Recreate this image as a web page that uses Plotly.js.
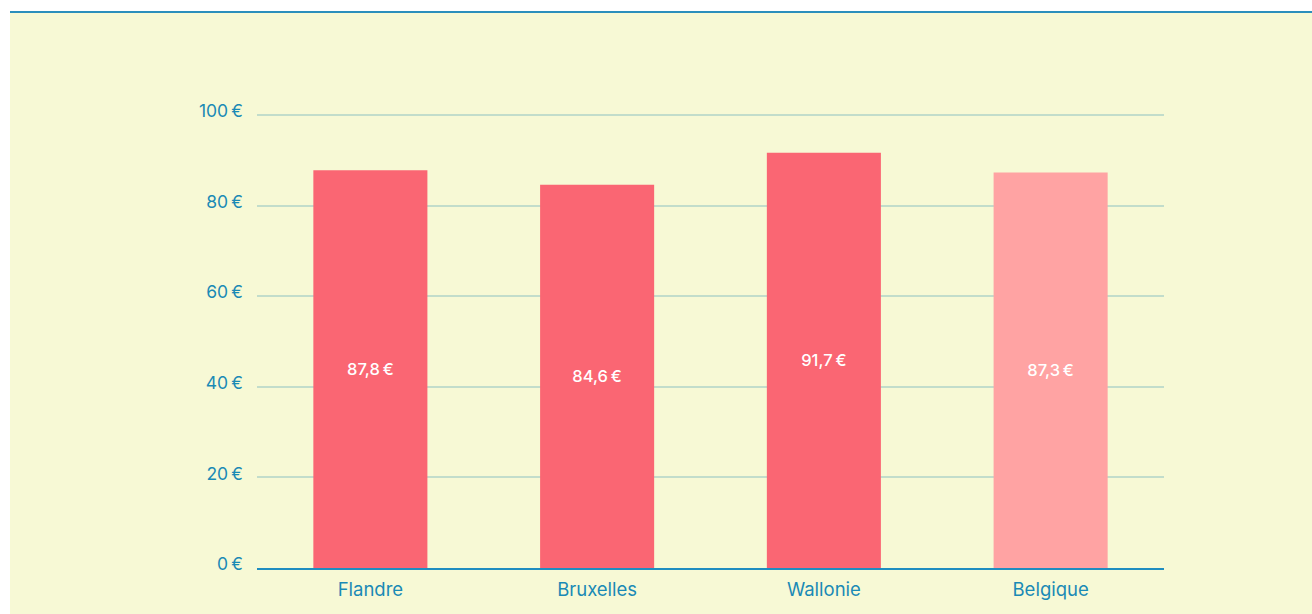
<!DOCTYPE html>
<html>
<head>
<meta charset="utf-8">
<script src="https://cdn.plot.ly/plotly-3.0.1.min.js"></script>
<style>
  html, body { margin: 0; padding: 0; background: #ffffff; }
  #wrap { position: relative; width: 1312px; height: 614px; overflow: hidden; }
  #panel { position: absolute; left: 10px; top: 11px; right: 0; bottom: 0;
           background: #F7F9D5; border-top: 2px solid #2B8FBC; }
  #chart { position: absolute; left: 0; top: 0; width: 1312px; height: 614px; }
</style>
</head>
<body>
<div id="wrap">
  <div id="panel"></div>
  <div id="chart"></div>
</div>
<script>
const categories = ["Flandre", "Bruxelles", "Wallonie", "Belgique"];
const values = [87.8, 84.6, 91.7, 87.3];
const barColors = ["#FA6673", "#FA6673", "#FA6673", "#FFA3A3"];
const yTickValues = [0, 20, 40, 60, 80, 100];
const yTickLabels = ["0\u202F€", "20\u202F€", "40\u202F€", "60\u202F€", "80\u202F€", "100\u202F€"];

const labels = values.map(v => v.toFixed(1).replace(".", ",") + "\u202F€");

const trace = {
  type: "bar",
  x: categories,
  y: values,
  text: labels,
  textposition: "inside",
  insidetextanchor: "middle",
  textangle: 0,
  textfont: { family: "Inter, 'Open Sans', sans-serif", size: 16.5, color: "#ffffff", weight: 500 },
  marker: { color: barColors, line: { width: 0 } },
  hoverinfo: "none",
  cliponaxis: false
};

const axisColor = "#1A8AB5";

const layout = {
  width: 1312,
  height: 614,
  margin: { l: 257, r: 148, t: 106, b: 46, pad: 0 },
  paper_bgcolor: "rgba(0,0,0,0)",
  plot_bgcolor: "rgba(0,0,0,0)",
  showlegend: false,
  bargap: 0.497,
  separators: ", ",
  font: { family: "Inter, 'Open Sans', sans-serif", color: axisColor },
  xaxis: {
    type: "category",
    range: [-0.5, 3.5],
    showgrid: false,
    showline: true,
    linecolor: "#1F8DC0",
    linewidth: 1.5,
    ticks: "",
    ticklabelstandoff: 4,
    tickfont: { size: 18.5, color: axisColor },
    zeroline: false,
    fixedrange: true
  },
  yaxis: {
    range: [0, 102],
    tickvals: yTickValues,
    ticktext: yTickLabels,
    showgrid: true,
    gridcolor: "#C2DDCB",
    gridwidth: 2,
    zeroline: false,
    showline: false,
    ticks: "",
    ticklabelstandoff: 13,
    ticklabelshift: -4,
    tickfont: { size: 17.5, color: axisColor },
    fixedrange: true
  }
};

Plotly.newPlot("chart", [trace], layout, { displayModeBar: false, staticPlot: true });
</script>
</body>
</html>
